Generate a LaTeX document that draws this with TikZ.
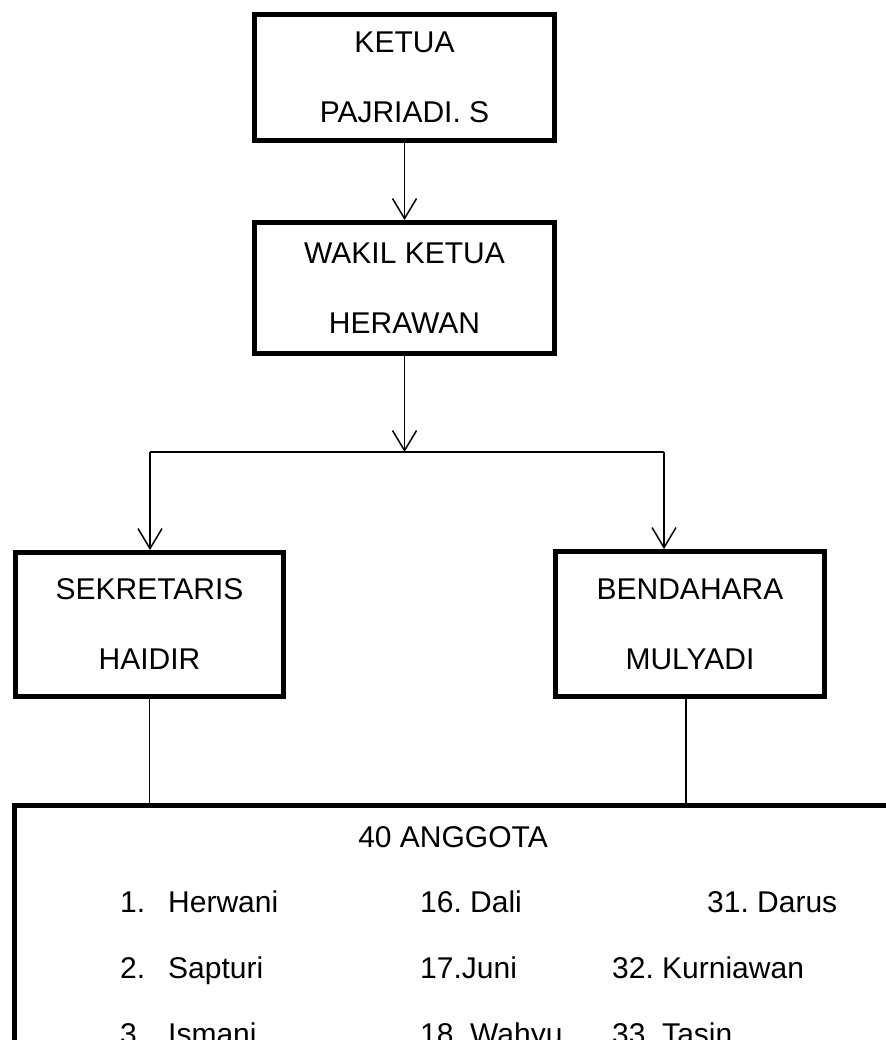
\documentclass[tikz,border=0pt]{standalone}
\usepackage{fontspec}
\setmainfont{Liberation Sans}
\usetikzlibrary{arrows.meta,positioning}
\frenchspacing

\begin{document}
\begin{tikzpicture}[x=1pt,y=1pt,yscale=-1,xscale=1,
  jabatan/.style = {draw, line width=5pt, rectangle, align=center,
  inner sep=0pt, font=\fontsize{30}{70}\selectfont},
  garis/.style = {line width=1.5pt},
  panah/.style = {garis, -{Straight Barb[length=20pt,width=24pt]}},
  daftar/.style = {anchor=base west, inner sep=0pt,
  font=\fontsize{30}{36}\selectfont}
  ]
  \useasboundingbox (0,0) rectangle (885,1040);

  \node[jabatan, minimum width=300pt, minimum height=126pt] (ketua) at (404.5,77.5) {KETUA\\PAJRIADI. S};
  \node[jabatan, minimum width=300pt, minimum height=131pt] (wakil) at (404.5,288) {WAKIL KETUA\\HERAWAN};
  \node[jabatan, minimum width=268pt, minimum height=144pt] (sekretaris) at (149.5,624.5) {SEKRETARIS\\HAIDIR};
  \node[jabatan, minimum width=269pt, minimum height=145pt] (bendahara) at (690,624) {BENDAHARA\\MULYADI};
  \node[draw, line width=5pt, anchor=north west, inner sep=0pt,
    minimum width=900pt, minimum height=260pt] (anggota) at (12,803) {};

  \coordinate (kiri) at (150,452);
  \coordinate (kanan) at (664,452);

  \draw[panah] (ketua.south) -- (wakil.north);
  \draw[panah] (wakil.south) -- (wakil.south |- kiri);
  \draw[garis] (kiri) -- (kanan);
  \draw[panah] (kiri) -- (kiri |- sekretaris.north);
  \draw[panah] (kanan) -- (kanan |- bendahara.north);

  \draw[garis] (sekretaris.south) -- (sekretaris.south |- anggota.north);
  \draw[garis] ([xshift=-4pt]bendahara.south) -- ([xshift=-4pt]bendahara.south |- anggota.north);

  % daftar anggota
  \node[anchor=base, inner sep=0pt, font=\fontsize{30}{36}\selectfont] (judul) at (453,847) {40 ANGGOTA};

  \node[daftar] (no1) at (120,912) {1.};
  \node[daftar] (a1) at (168,912) {Herwani};
  \node[daftar] (no2) at (120,978) {2.};
  \node[daftar] (a2) at (168,978) {Sapturi};
  \node[daftar] (no3) at (120,1044) {3.};
  \node[daftar] (a3) at (168,1044) {Ismani};

  \node[daftar] (a16) at (420,912) {16. Dali};
  \node[daftar] (a17) at (420,978) {17.Juni};
  \node[daftar] (a18) at (420,1044) {18. Wahyu};

  \node[daftar] (a31) at (707,912) {31. Darus};
  \node[daftar] (a32) at (612,978) {32. Kurniawan};
  \node[daftar] (a33) at (612,1044) {33. Tasin};

\end{tikzpicture}
\end{document}
